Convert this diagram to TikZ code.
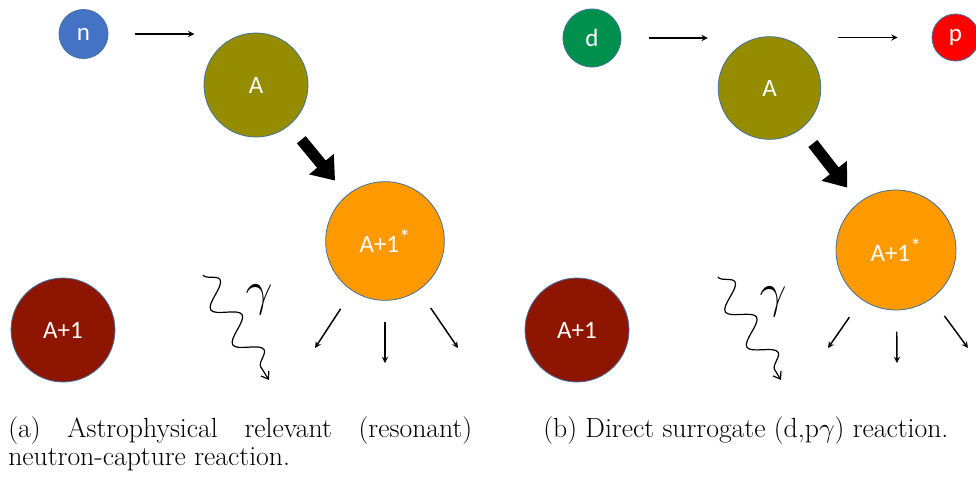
\documentclass[tikz,border=0pt]{standalone}
\usepackage{fix-cm}
\usepackage{fontspec}
\newfontfamily\ballfont{Carlito}
\usetikzlibrary{arrows.meta,decorations.pathmorphing}

\definecolor{nblue}{HTML}{4472C4}
\definecolor{nucA}{HTML}{968C00}
\definecolor{nucStar}{HTML}{FF9900}
\definecolor{nucFinal}{HTML}{8E1500}
\definecolor{dgreen}{HTML}{00904E}
\definecolor{pred}{HTML}{FF0000}
\definecolor{rim}{HTML}{41719C}

\newcommand{\excited}{\raisebox{0.3em}{\fontsize{17}{17}\selectfont *}}

\begin{document}
\begin{tikzpicture}[
    x=0.75pt,
    y=-0.75pt,
    >=stealth,
    ball/.style={
        circle,
        draw=rim,
        line width=0.6pt,
        inner sep=0pt,
        text=white,
        font=\ballfont\fontsize{18.75}{20}\selectfont
    },
    arr/.style={
        ->,
        line width=1.1pt
    },
    bigarr/.style={
        -{Triangle[length=16pt,width=23pt]},
        line width=8.5pt,
        shorten <=14pt,
        shorten >=14pt
    },
    wave/.style={
        -{Straight Barb[length=5pt,width=7pt]},
        line width=0.9pt,
        decorate,
        decoration={snake, segment length=31pt, amplitude=9pt, post length=6pt}
    },
    capt/.style={
        inner sep=0pt,
        font=\fontsize{20.8}{21}\selectfont
    }
]
    \useasboundingbox (0,0) rectangle (976,476);

    % (a) neutron capture
    \node[ball, fill=nblue, minimum size=36.75pt] (n) at (83.5,34) {n};
    \node[ball, fill=nucA, minimum size=78pt] (Aa) at (256,85) {A};
    \node[ball, fill=nucStar, minimum size=89pt] (Sa) at (385,241) {A+1\excited};
    \node[ball, fill=nucFinal, minimum size=78pt] (Fa) at (63,330) {A+1};

    \draw[arr, shorten <=20pt, shorten >=7pt] (n.east) -- (n.east -| Aa.west);
    \draw[bigarr] (Aa) -- (Sa);

    \coordinate (da1) at (315,348);
    \coordinate (da2) at (385,363);
    \coordinate (da3) at (458,348);
    \foreach \c in {da1,da2,da3}
        \draw[arr, shorten <=16pt] (Sa) -- (\c);

    \coordinate (ga0) at (203,275);
    \coordinate (ga1) at (269,380);
    \draw[wave] (ga0) -- (ga1);
    \node[font=\fontsize{36}{40}\selectfont] (gla) at (259,300) {$\gamma$};

    % (b) surrogate
    \node[ball, fill=dgreen, minimum size=43.5pt] (d) at (592,38) {d};
    \node[ball, fill=nucA, minimum size=77pt] (Ab) at (769.5,88) {A};
    \node[ball, fill=pred, minimum size=35.25pt] (p) at (955.5,37.5) {p};
    \node[ball, fill=nucStar, minimum size=90pt] (Sb) at (896,250) {A+1\excited};
    \node[ball, fill=nucFinal, minimum size=78pt] (Fb) at (577,330) {A+1};

    \draw[arr, shorten <=21pt, shorten >=7.5pt] (d.east) -- (d.east -| Ab.west);
    \draw[arr, shorten <=12.75pt, shorten >=25.5pt] (Ab.east |- p.west) -- (p.west);
    \draw[bigarr] (Ab) -- (Sb);

    \coordinate (db1) at (828,348);
    \coordinate (db2) at (897,363);
    \coordinate (db3) at (968,348);
    \foreach \c in {db1,db2,db3}
        \draw[arr, shorten <=16pt] (Sb) -- (\c);

    \coordinate (gb0) at (718,277);
    \coordinate (gb1) at (781,380);
    \draw[wave] (gb0) -- (gb1);
    \node[font=\fontsize{36}{40}\selectfont] (glb) at (773,302) {$\gamma$};

    % captions
    \node[capt, text width=348pt, align=justify, anchor=base west] (capa) at (8,437)
        {(a) Astrophysical relevant (resonant)\linebreak neutron-capture reaction.};
    \node[capt, anchor=base west] (capb) at (543,437)
        {(b) Direct surrogate (d,p$\gamma$) reaction.};

\end{tikzpicture}
\end{document}
